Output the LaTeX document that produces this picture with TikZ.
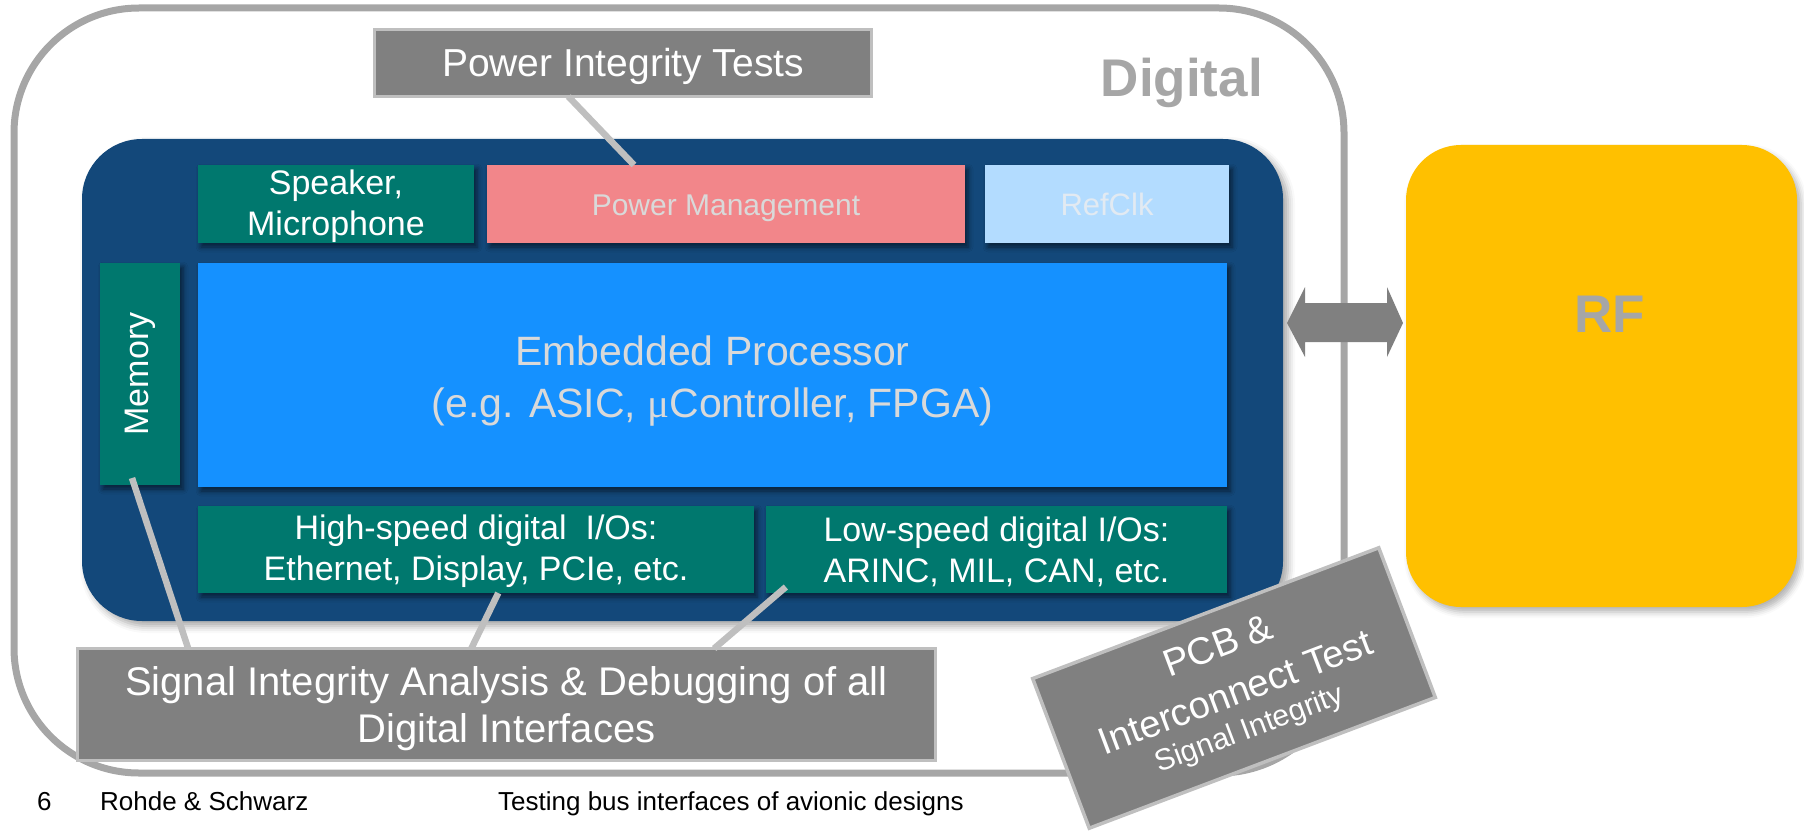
\documentclass[tikz,border=0pt]{standalone}
\usepackage{fontspec}
\setmainfont{Liberation Sans}
\newfontfamily\greekfont{Liberation Serif}
\usetikzlibrary{calc,shadows.blur}

\definecolor{framegray}{HTML}{A6A6A6}
\definecolor{boardblue}{HTML}{13487A}
\definecolor{ioteal}{HTML}{00786E}
\definecolor{cpublue}{HTML}{1591FF}
\definecolor{pmred}{HTML}{F2868A}
\definecolor{clkblue}{HTML}{B3DCFF}
\definecolor{clktext}{HTML}{E2EAF2}
\definecolor{rfyellow}{HTML}{FFC000}
\definecolor{testgray}{HTML}{808080}
\definecolor{testedge}{HTML}{BFBFBF}
\definecolor{softtext}{HTML}{D9D9D9}

% font size / baseline skip in pt
\newcommand{\fsz}[2]{\fontsize{#1pt}{#2pt}\selectfont}
% invisible strut that sets the height of a first text line
\newcommand{\topstrut}[1]{\rule{0pt}{#1}}

\tikzset{
  block/.style={rectangle, inner sep=0pt, outer sep=0pt, align=center},
  boxshadow/.style={blur shadow={shadow xshift=3pt, shadow yshift=-4pt,
      shadow blur radius=5pt, shadow opacity=55}},
  ioblock/.style={block, boxshadow, fill=ioteal, text=white, font=\fsz{34}{41}},
  testbox/.style={block, fill=testgray, draw=testedge, line width=3.5pt, text=white},
  link/.style={draw=testedge, line width=6.5pt},
  headline/.style={text=framegray, font=\bfseries\fsz{53}{60}, inner sep=0pt},
  footer/.style={text=black, font=\fsz{26}{30}, inner sep=0pt},
}

\begin{document}
\begin{tikzpicture}[x=1pt,y=-1pt]
\useasboundingbox (0,0) rectangle (1804,832);

% digital domain frame
\node[block, draw=framegray, line width=7pt, rounded corners=125pt,
      minimum width=1330pt, minimum height=765pt] (digital) at (679,390.5) {};
\node[headline, anchor=base east] (digitaltitle) at (1263,97) {Digital};

% processor board
\node[block, fill=boardblue, rounded corners=60pt,
      minimum width=1201pt, minimum height=482pt,
      blur shadow={shadow xshift=5pt, shadow yshift=-5pt,
        shadow blur radius=7pt, shadow opacity=35}] (board) at (682.5,380) {};

\node[ioblock, minimum width=276pt, minimum height=78pt] (speaker) at (336,204)
  {\topstrut{29pt}Speaker,\\Microphone};
\node[ioblock, fill=pmred, text=softtext, font=\fsz{30}{36},
      minimum width=478pt, minimum height=78pt] (pm) at (726,204)
  {\topstrut{30pt}Power Management};
\node[ioblock, fill=clkblue, text=clktext, font=\fsz{31}{36},
      minimum width=244pt, minimum height=78pt] (clk) at (1107,204) {RefClk};
\node[ioblock, minimum width=80pt, minimum height=222pt] (mem) at (140,374)
  {\rotatebox{90}{Memory}};
\node[ioblock, fill=cpublue, text=softtext, font=\fsz{41}{52},
      minimum width=1029pt, minimum height=224pt] (cpu) at (712.5,375)
  {\topstrut{42.6pt}Embedded Processor\\(e.g. ASIC, {\greekfont μ}Controller, FPGA)};
\node[ioblock, minimum width=556pt, minimum height=87pt] (hs) at (476,549.5)
  {\topstrut{29pt}High-speed digital~ I/Os:\\Ethernet, Display, PCIe, etc.};
\node[ioblock, minimum width=461pt, minimum height=87pt] (ls) at (996.5,549.5)
  {\topstrut{29pt}Low-speed digital I/Os:\\ARINC, MIL, CAN, etc.};

% RF domain
\node[block, fill=rfyellow, rounded corners=55pt,
      minimum width=391pt, minimum height=462pt,
      blur shadow={shadow xshift=4pt, shadow yshift=-5pt,
        shadow blur radius=6pt, shadow opacity=30}] (rf) at (1601.5,376) {};
\node[headline, anchor=base] (rftitle) at (1609.5,332) {RF};

% bidirectional link between the board and RF
\coordinate (tipL) at ([xshift=4pt,yshift=57pt]board.east);
\coordinate (tipR) at ([xshift=-3pt,yshift=53pt]rf.west);
\fill[testgray] (tipL) -- ++(18,-36) -- ++(0,16) -- ($(tipR)+(-16,-20)$)
  -- ++(0,-16) -- (tipR) -- ++(-16,34) -- ++(0,-15) -- ($(tipL)+(18,19)$)
  -- ++(0,15) -- cycle;

% test callouts
\node[testbox, font=\fsz{39}{46}, minimum width=497pt, minimum height=67pt]
  (pit) at (623,63) {\topstrut{36pt}Power Integrity Tests};
\node[testbox, font=\fsz{40}{47}, minimum width=858pt, minimum height=112pt]
  (sig) at (506.5,704.5)
  {\topstrut{36.4pt}Signal Integrity Analysis \& Debugging of all\\Digital Interfaces};

% callout leaders
\draw[link] ($(pit.south west)!0.39!(pit.south east)$)
  -- ($(pm.north west)!0.3075!(pm.north east)$);
\draw[link] ($(mem.south west)!0.4!(mem.south east)+(0,-7)$)
  -- ($(sig.north west)!0.129!(sig.north east)$);
\draw[link] ($(hs.south west)!0.54!(hs.south east)$)
  -- ($(sig.north west)!0.459!(sig.north east)$);
\draw[link] ($(ls.south west)!0.043!(ls.south east)+(0,-6)$)
  -- ($(sig.north west)!0.742!(sig.north east)$);

% tilted PCB test label
\node[testbox, rotate=20.7, font=\fsz{38}{50},
      minimum width=370pt, minimum height=160pt] (pcb) at (1234,688)
  {PCB \&\\Interconnect Test\\[-14pt]{\fsz{30}{36}Signal Integrity}};

% footer
\node[footer, anchor=base west] (pagenum) at (37,810) {6};
\node[footer, anchor=base west] (company) at (100,810) {Rohde \& Schwarz};
\node[footer, anchor=base west] (deck) at (498,810)
  {Testing bus interfaces of avionic designs};
\end{tikzpicture}
\end{document}
